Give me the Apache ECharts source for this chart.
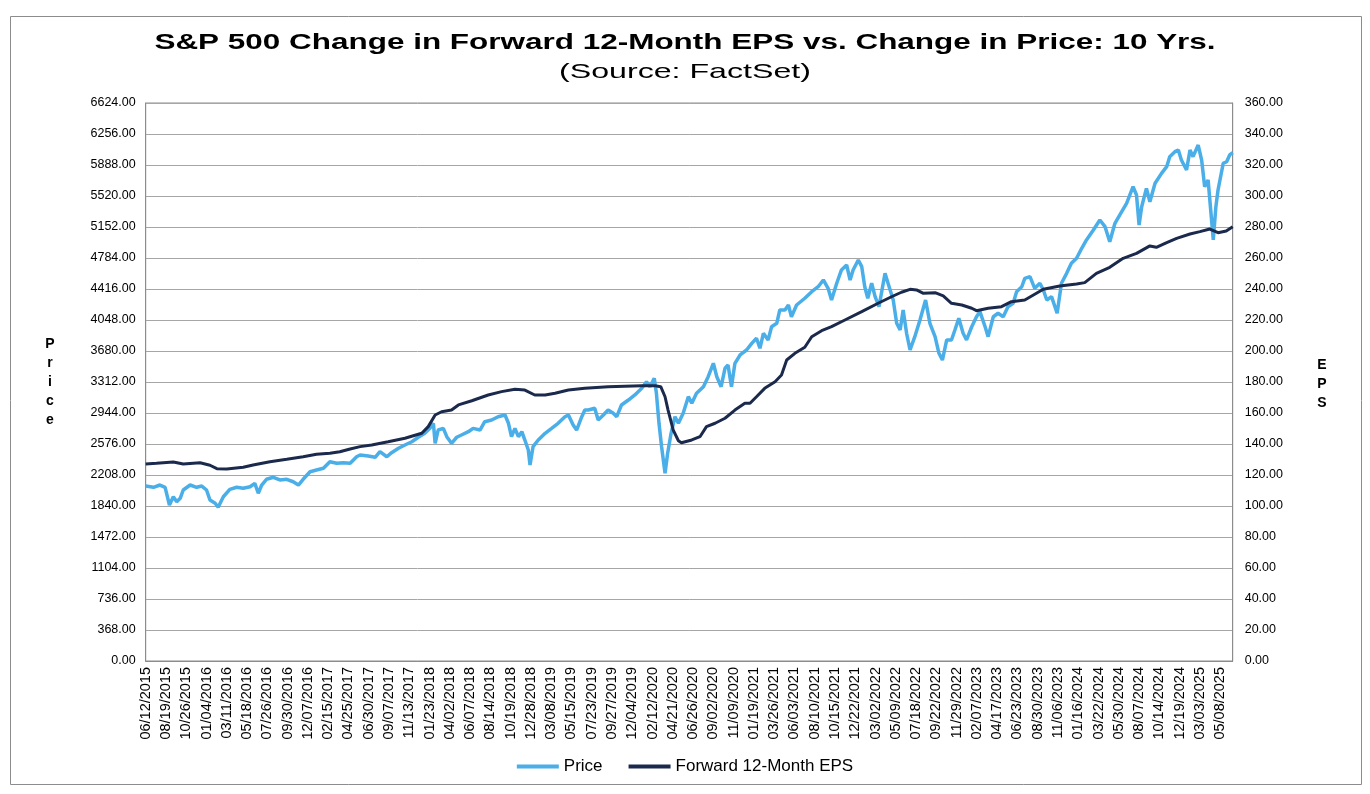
<!DOCTYPE html>
<html>
<head>
<meta charset="utf-8">
<script src="https://cdn.jsdelivr.net/npm/echarts@6/dist/echarts.min.js"></script>
<style>html,body{margin:0;padding:0;background:#fff}#c{width:1370px;height:794px}</style>
</head>
<body>
<div id="c"></div>
<script>
// X tick labels (one every 47 trading days from 06/12/2015)
const dateLabels = ["06/12/2015","08/19/2015","10/26/2015","01/04/2016","03/11/2016","05/18/2016","07/26/2016","09/30/2016","12/07/2016","02/15/2017","04/25/2017","06/30/2017","09/07/2017","11/13/2017","01/23/2018","04/02/2018","06/07/2018","08/14/2018","10/19/2018","12/28/2018","03/08/2019","05/15/2019","07/23/2019","09/27/2019","12/04/2019","02/12/2020","04/21/2020","06/26/2020","09/02/2020","11/09/2020","01/19/2021","03/26/2021","06/03/2021","08/10/2021","10/15/2021","12/22/2021","03/02/2022","05/09/2022","07/18/2022","09/22/2022","11/29/2022","02/07/2023","04/17/2023","06/23/2023","08/30/2023","11/06/2023","01/16/2024","03/22/2024","05/30/2024","08/07/2024","10/14/2024","12/19/2024","03/03/2025","05/08/2025"];

// Price: [trading-day index, S&P 500 level]
const priceSeries = [[0,2077],[18,2062],[33,2089],[45,2062],[55,1852],[64,1950],[72,1891],[80,1931],[87,2030],[103,2089],[118,2062],[130,2077],[141,2030],[149,1911],[161,1872],[168,1825],[180,1950],[195,2038],[211,2062],[226,2050],[242,2069],[253,2109],[261,1991],[269,2089],[280,2157],[296,2181],[311,2149],[327,2157],[342,2128],[354,2089],[365,2157],[381,2247],[396,2267],[412,2288],[427,2366],[443,2347],[458,2354],[474,2347],[489,2425],[497,2445],[516,2434],[532,2418],[543,2485],[559,2425],[570,2473],[586,2525],[601,2564],[617,2603],[632,2656],[647,2703],[659,2762],[667,2822],[671,2584],[678,2742],[690,2762],[698,2663],[709,2584],[721,2656],[732,2683],[748,2722],[759,2762],[775,2742],[786,2841],[802,2861],[817,2900],[833,2920],[841,2822],[848,2663],[856,2762],[864,2663],[872,2722],[879,2623],[887,2505],[891,2327],[898,2544],[910,2623],[926,2703],[941,2762],[956,2822],[972,2900],[980,2920],[991,2802],[999,2742],[1011,2900],[1018,2980],[1026,2980],[1041,3000],[1049,2861],[1061,2920],[1072,2980],[1084,2940],[1092,2900],[1103,3039],[1119,3098],[1134,3158],[1150,3237],[1161,3316],[1169,3256],[1179,3356],[1184,3178],[1190,2822],[1196,2544],[1204,2228],[1210,2466],[1218,2703],[1227,2900],[1235,2822],[1246,2940],[1258,3138],[1266,3059],[1277,3178],[1293,3256],[1304,3375],[1316,3534],[1324,3375],[1334,3256],[1343,3475],[1350,3514],[1358,3256],[1366,3534],[1378,3633],[1393,3692],[1405,3771],[1416,3831],[1424,3712],[1432,3890],[1443,3811],[1451,3968],[1463,4009],[1470,4167],[1482,4167],[1490,4226],[1497,4087],[1509,4226],[1528,4306],[1544,4384],[1559,4443],[1571,4523],[1582,4424],[1590,4285],[1602,4484],[1613,4642],[1625,4701],[1633,4523],[1640,4642],[1652,4760],[1660,4681],[1667,4443],[1674,4306],[1683,4484],[1691,4325],[1700,4206],[1707,4404],[1714,4602],[1721,4484],[1733,4285],[1741,4009],[1749,3929],[1756,4167],[1764,3890],[1772,3692],[1783,3850],[1795,4048],[1808,4285],[1818,4009],[1830,3850],[1839,3653],[1847,3573],[1857,3811],[1868,3811],[1876,3929],[1885,4068],[1895,3890],[1903,3811],[1915,3968],[1926,4087],[1934,4147],[1946,3968],[1953,3850],[1965,4087],[1976,4128],[1988,4087],[1999,4206],[2011,4246],[2019,4384],[2031,4443],[2038,4543],[2050,4562],[2061,4424],[2073,4484],[2081,4404],[2089,4285],[2100,4325],[2113,4128],[2123,4484],[2135,4602],[2146,4721],[2158,4781],[2170,4899],[2181,4998],[2197,5116],[2212,5235],[2224,5156],[2235,4978],[2247,5196],[2258,5294],[2274,5433],[2289,5630],[2297,5532],[2303,5176],[2309,5393],[2320,5611],[2328,5452],[2340,5671],[2355,5789],[2367,5868],[2374,5987],[2386,6046],[2394,6066],[2401,5947],[2413,5829],[2421,6066],[2428,5987],[2440,6125],[2448,5947],[2455,5630],[2463,5710],[2469,5354],[2475,4998],[2481,5393],[2486,5591],[2498,5908],[2506,5927],[2513,6007],[2520,6034]];

// Forward 12-Month EPS: [trading-day index, EPS]
const epsSeries = [[0,127.1],[25,127.6],[64,128.4],[87,127.1],[126,127.9],[149,126.3],[165,124.1],[188,123.9],[226,125.0],[249,126.5],[288,128.6],[327,130.1],[365,131.8],[396,133.4],[427,134.0],[450,135.0],[474,136.8],[497,138.3],[524,139.4],[562,141.5],[601,143.7],[640,146.9],[655,151.2],[671,158.7],[686,160.8],[709,161.9],[725,165.2],[756,167.9],[794,171.6],[825,173.8],[856,175.3],[879,174.8],[902,171.6],[926,171.6],[949,172.7],[980,174.8],[1018,175.9],[1072,177.0],[1150,177.6],[1181,177.6],[1194,177.0],[1204,170.5],[1211,161.9],[1223,149.0],[1235,142.1],[1242,140.8],[1266,142.6],[1285,144.7],[1300,151.2],[1320,153.4],[1343,156.6],[1366,161.9],[1389,166.3],[1401,166.3],[1416,170.5],[1435,175.9],[1459,180.2],[1474,184.5],[1486,194.2],[1505,198.5],[1528,202.4],[1544,209.2],[1567,213.1],[1590,215.7],[1621,220.0],[1660,225.4],[1698,230.8],[1729,235.0],[1752,237.9],[1772,239.8],[1787,239.4],[1803,237.2],[1830,237.6],[1849,235.5],[1868,230.8],[1892,229.7],[1915,227.6],[1926,226.0],[1953,227.6],[1984,228.6],[2007,231.8],[2038,232.9],[2081,239.8],[2119,241.9],[2158,243.2],[2177,244.1],[2204,250.1],[2235,254.0],[2266,259.8],[2297,263.0],[2328,267.8],[2343,266.9],[2367,269.9],[2390,272.7],[2421,275.5],[2444,277.0],[2467,278.7],[2486,276.3],[2505,277.4],[2520,280.2]];

const titleText = "S&P 500 Change in Forward 12-Month EPS vs. Change in Price: 10 Yrs.";
const subtitleText = "(Source: FactSet)";
const labelStep = 47;

const FONT = '"Liberation Sans", Arial, sans-serif';
const chart = echarts.init(document.getElementById('c'));
chart.setOption({
  backgroundColor: '#fff',
  animation: false,
  textStyle: { fontFamily: FONT },
  graphic: [
    { type: 'rect', shape: { x: 10.5, y: 16.5, width: 1351, height: 768 }, style: { fill: 'none', stroke: '#8c8c8c', lineWidth: 1 }, silent: true },
    { type: 'text', x: 685, y: 43, scaleX: 1.43, style: { text: titleText, font: 'bold 22px ' + FONT, fill: '#000', textAlign: 'center', textVerticalAlign: 'middle' } },
    { type: 'text', x: 685, y: 72, scaleX: 1.53, style: { text: subtitleText, font: '21px ' + FONT, fill: '#000', textAlign: 'center', textVerticalAlign: 'middle' } },
    { type: 'text', x: 50, y: 382, style: { text: 'P\nr\ni\nc\ne', font: 'bold 14px ' + FONT, lineHeight: 19, fill: '#000', textAlign: 'center', textVerticalAlign: 'middle' } },
    { type: 'text', x: 1322, y: 384, style: { text: 'E\nP\nS', font: 'bold 14px ' + FONT, lineHeight: 19, fill: '#000', textAlign: 'center', textVerticalAlign: 'middle' } }
  ],
  legend: {
    top: 753, left: 'center',
    itemWidth: 42, itemHeight: 4, itemGap: 26,
    icon: 'rect',
    textStyle: { fontSize: 17, color: '#000', fontFamily: FONT },
    data: ['Price', 'Forward 12-Month EPS']
  },
  grid: { left: 145.7, right: 137.3, top: 103, bottom: 133, show: true, borderColor: '#8c8c8c', borderWidth: 1 },
  xAxis: {
    type: 'value', min: 0, max: 2520, interval: labelStep,
    axisLine: { show: true, lineStyle: { color: '#8c8c8c' } },
    axisTick: { show: false },
    splitLine: { show: false },
    axisLabel: {
      rotate: 90, margin: 6, fontSize: 14.5, color: '#000',
      showMaxLabel: false,
      formatter: function (v) { return (v % labelStep === 0 && dateLabels[v / labelStep]) ? dateLabels[v / labelStep] : ''; }
    }
  },
  yAxis: [
    {
      type: 'value', min: 0, max: 6624, interval: 368, position: 'left',
      axisLine: { show: true, lineStyle: { color: '#8c8c8c' } },
      axisTick: { show: false },
      splitLine: { show: true, lineStyle: { color: '#a6a6a6', width: 1 } },
      axisLabel: { margin: 10, fontSize: 12.5, color: '#000', formatter: v => v.toFixed(2) }
    },
    {
      type: 'value', min: 0, max: 360, interval: 20, position: 'right',
      axisLine: { show: true, lineStyle: { color: '#8c8c8c' } },
      axisTick: { show: false },
      splitLine: { show: false },
      axisLabel: { margin: 12, fontSize: 12.5, color: '#000', formatter: v => v.toFixed(2) }
    }
  ],
  series: [
    { name: 'Price', type: 'line', yAxisIndex: 0, data: priceSeries, showSymbol: false, symbol: 'none',
      lineStyle: { color: '#4aaee8', width: 3.5 }, itemStyle: { color: '#4aaee8' } },
    { name: 'Forward 12-Month EPS', type: 'line', yAxisIndex: 1, data: epsSeries, showSymbol: false, symbol: 'none',
      lineStyle: { color: '#1b2a4c', width: 3 }, itemStyle: { color: '#1b2a4c' } }
  ]
});
</script>
</body>
</html>
